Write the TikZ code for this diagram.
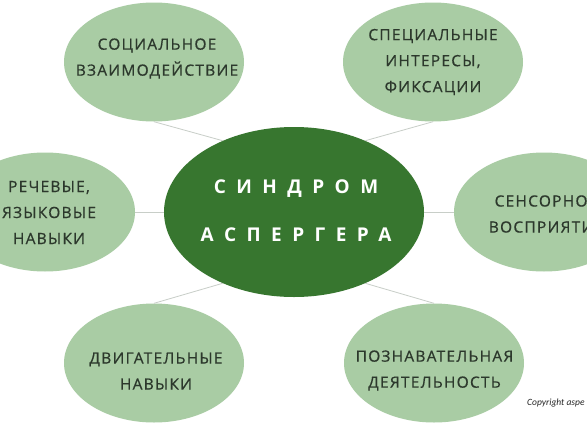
\documentclass[tikz,border=0pt]{standalone}
\usepackage{fontspec}
\setmainfont{Open Sans}
\newfontfamily\satfont[FakeBold=0.6]{Open Sans}
\newfontfamily\cfont{Carlito}
\usetikzlibrary{shapes.geometric}
\definecolor{dkgreen}{RGB}{55,118,47}
\definecolor{ltgreen}{RGB}{169,204,164}
\definecolor{connc}{RGB}{200,206,200}
\definecolor{txt}{RGB}{44,56,44}
\begin{document}
\begin{tikzpicture}[x=1pt,y=-1pt,
  sat/.style={ellipse,fill=ltgreen,minimum width=180pt,minimum height=119pt,inner sep=0pt},
  hub/.style={ellipse,fill=dkgreen,minimum width=260pt,minimum height=170pt,inner sep=0pt},
  lab/.style={text=txt,font=\satfont\fontsize{15.5}{26}\selectfont\addfontfeature{LetterSpace=8},align=center,inner sep=0pt},
  hublab/.style={text=white,font=\fontsize{19}{48}\selectfont\bfseries\addfontfeature{LetterSpace=55},align=center,inner sep=0pt},
  connector/.style={draw=connc,line width=0.8pt}]
\useasboundingbox (0,0) rectangle (587,426);
\clip (0,0) rectangle (587,426);
\fill[white] (0,0) rectangle (587,426);
\node[hub] (hub) at (294,212) {};
\node[sat] (tl) at (154,62) {};
\node[sat] (tr) at (433,62) {};
\node[sat] (l) at (45,212) {};
\node[sat] (r) at (544,212) {};
\node[sat] (bl) at (154,363) {};
\node[sat] (br) at (434,363) {};
\draw[connector] (tl.south) -- (hub.135);
\draw[connector] (tr.south) -- (hub.45);
\draw[connector] (bl.north) -- (hub.225);
\draw[connector] (br.north) -- (hub.315);
\draw[connector] (l.east) -- (hub.west);
\draw[connector] (r.west) -- (hub.east);
\node[hublab] (hubt) at (296,211) {СИНДРОМ\\АСПЕРГЕРА};
\node[lab] (tlt) at (157,58.5) {СОЦИАЛЬНОЕ\\ВЗАИМОДЕЙСТВИЕ};
\node[lab] (trt) at (433,62) {СПЕЦИАЛЬНЫЕ\\ИНТЕРЕСЫ,\\ФИКСАЦИИ};
\node[lab] (lt) at (49,212.5) {РЕЧЕВЫЕ,\\ЯЗЫКОВЫЕ\\НАВЫКИ};
\node[lab] (rt) at (546,214) {СЕНСОРНОЕ\\ВОСПРИЯТИЕ};
\node[lab] (blt) at (156,371) {ДВИГАТЕЛЬНЫЕ\\НАВЫКИ};
\node[lab] (brt) at (434.5,370.5) {ПОЗНАВАТЕЛЬНАЯ\\ДЕЯТЕЛЬНОСТЬ};
\node[anchor=west,inner sep=0pt,font=\cfont\itshape\fontsize{9.5}{11}\selectfont,text=black!85] (copy) at (527,403) {Copyright aspe};
\end{tikzpicture}
\end{document}
